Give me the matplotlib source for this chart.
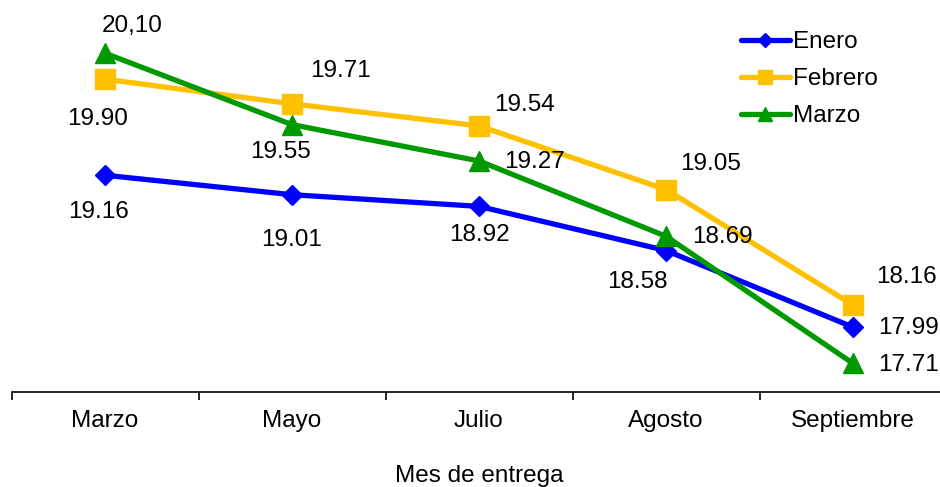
import matplotlib.pyplot as plt

plt.rcParams['font.family'] = ['Liberation Sans', 'DejaVu Sans']

meses = ['Marzo', 'Mayo', 'Julio', 'Agosto', 'Septiembre']

enero = [19.16, 19.01, 18.92, 18.58, 17.99]
febrero = [19.90, 19.71, 19.54, 19.05, 18.16]
marzo = [20.10, 19.55, 19.27, 18.69, 17.71]

enero_txt = ['19.16', '19.01', '18.92', '18.58', '17.99']
febrero_txt = ['19.90', '19.71', '19.54', '19.05', '18.16']
marzo_txt = ['20,10', '19.55', '19.27', '18.69', '17.71']

# label offsets in pixels from each point
enero_off = [(-7, -37), (0, -45), (0, -29), (-29, -31), (56, -1)]
febrero_off = [(-7, -40), (48, 33), (46, 21), (45, 26), (53, 28)]
marzo_off = [(27, 27), (-12, -27), (56, -1), (56, -1), (56, -2)]

FS = 17.5

fig = plt.figure(figsize=(9.4, 4.87), dpi=100)
ax = fig.add_axes([11.5 / 940, 95 / 487, 935 / 940, 392 / 487])

x = range(len(meses))
series = [
    ('Enero', enero, enero_txt, enero_off, '#0000FF', 'D', 10),
    ('Febrero', febrero, febrero_txt, febrero_off, '#FFC000', 's', 14),
    ('Marzo', marzo, marzo_txt, marzo_off, '#009900', '^', 14),
]
for name, vals, txts, offs, color, mk, ms in series:
    ax.plot(x, vals, color=color, lw=3.8, marker=mk, ms=ms, label=name,
            solid_capstyle='round', clip_on=False)
    for i, (v, t, o) in enumerate(zip(vals, txts, offs)):
        ax.annotate(t, (i, v), xytext=o, textcoords='offset pixels',
                    ha='center', va='center', fontsize=FS)

ax.set_xlim(-0.5, 4.5)
ax.set_ylim(17.49, 20.51)

for s in ['top', 'right', 'left']:
    ax.spines[s].set_visible(False)
ax.spines['bottom'].set_linewidth(1.2)
ax.set_yticks([])
ax.set_xticks(list(x))
ax.set_xticklabels(meses, fontsize=FS)
ax.set_xticks([i - 0.5 for i in range(len(meses) + 1)], minor=True)
ax.tick_params(axis='x', which='major', length=0, pad=13)
ax.tick_params(axis='x', which='minor', length=6, width=1.2, direction='out')
ax.set_xlabel('Mes de entrega', fontsize=FS, labelpad=24)

ax.legend(loc='upper left', bbox_to_anchor=(729 / 940, 1 - 19 / 487),
          bbox_transform=fig.transFigure, frameon=False, fontsize=FS,
          handlelength=2.0, handletextpad=0.15, labelspacing=0.62,
          borderpad=0, markerscale=0.75)

fig.savefig('out.png', dpi=100)
